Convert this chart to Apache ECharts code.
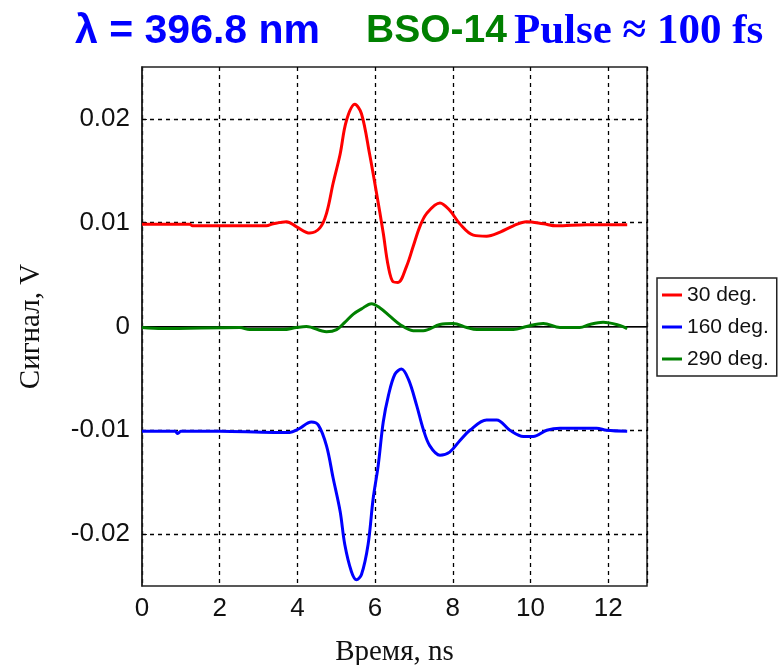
<!DOCTYPE html>
<html>
<head>
<meta charset="utf-8">
<script src="https://cdn.jsdelivr.net/npm/echarts@6/dist/echarts.min.js"></script>
<style>html,body{margin:0;padding:0;background:#fff}#c{width:783px;height:665px}</style>
</head>
<body>
<div id="c"></div>
<script>
// ---- data ----
const seriesNames = ['30 deg.', '160 deg.', '290 deg.'];
const xTicks = [0, 2, 4, 6, 8, 10, 12];
const yTicks = [-0.02, -0.01, 0, 0.01, 0.02];

const time30 = [0, 1.23, 1.3, 3.2, 3.38, 3.72, 3.98, 4.32, 4.58, 4.75, 4.92, 5.10, 5.26, 5.48, 5.65, 5.86, 6.04, 6.21, 6.34, 6.47, 6.59, 6.81, 6.98, 7.15, 7.33, 7.67, 7.92, 8.18, 8.53, 8.87, 9.22, 9.56, 9.90, 10.33, 10.67, 11.44, 12.49];
const sig30 = [0.00985, 0.00985, 0.0097, 0.0097, 0.0099, 0.0101, 0.0096, 0.0090, 0.0095, 0.0109, 0.0138, 0.0166, 0.0198, 0.0214, 0.0205, 0.0166, 0.0128, 0.0090, 0.0058, 0.0043, 0.00425, 0.0058, 0.0077, 0.0096, 0.0109, 0.0119, 0.0112, 0.0099, 0.0088, 0.0087, 0.0091, 0.0097, 0.0101, 0.0099, 0.0097, 0.0098, 0.0098];

const time160 = [0, 0.85, 0.92, 1.0, 2.0, 3.38, 3.80, 4.02, 4.36, 4.54, 4.75, 4.92, 5.10, 5.22, 5.39, 5.52, 5.65, 5.82, 5.95, 6.08, 6.21, 6.34, 6.51, 6.68, 6.86, 7.07, 7.24, 7.41, 7.67, 7.92, 8.18, 8.44, 8.87, 9.13, 9.47, 9.82, 10.07, 10.42, 10.76, 11.70, 11.96, 12.49];
const sig160 = [-0.0101, -0.0101, -0.0103, -0.0101, -0.0101, -0.0102, -0.0102, -0.0099, -0.0092, -0.0095, -0.0115, -0.0146, -0.0178, -0.0210, -0.0236, -0.0244, -0.0239, -0.0210, -0.0166, -0.0134, -0.0092, -0.0067, -0.0046, -0.0041, -0.0051, -0.0076, -0.0099, -0.0115, -0.0124, -0.0121, -0.0110, -0.0100, -0.0090, -0.0090, -0.0100, -0.0106, -0.0106, -0.0100, -0.0098, -0.0098, -0.0100, -0.0101];

const time290 = [0, 0.52, 2.52, 2.77, 3.63, 3.98, 4.23, 4.75, 5.01, 5.22, 5.44, 5.65, 5.91, 6.12, 6.38, 6.64, 6.98, 7.24, 7.67, 8.01, 8.36, 8.62, 9.56, 9.90, 10.33, 10.76, 11.27, 11.53, 11.87, 12.30, 12.49];
const sig290 = [-0.0001, -0.0002, -0.0001, -0.0003, -0.0003, -0.0001, 0.0, -0.0005, -0.0003, 0.0004, 0.0012, 0.0017, 0.0022, 0.0018, 0.0010, 0.0002, -0.0004, -0.0004, 0.0002, 0.0003, -0.0001, -0.0003, -0.0003, 0.0, 0.0003, -0.0001, -0.0001, 0.0002, 0.0004, 0.0001, -0.0002];

const colors = ['#ff0000', '#0000ff', '#008000'];
const pairs = (xs, ys) => xs.map((x, i) => [x, ys[i]]);
const allData = [pairs(time30, sig30), pairs(time160, sig160), pairs(time290, sig290)];

const chart = echarts.init(document.getElementById('c'), null, {renderer: 'canvas'});
const series = allData.map((d, i) => ({
  name: seriesNames[i],
  type: 'line',
  data: d,
  smooth: 0.35,
  showSymbol: false,
  z: 5 + (i === 2 ? 1 : 0),
  lineStyle: {color: colors[i], width: 3},
  itemStyle: {color: colors[i]}
}));
// horizontal grid lines and zero line
series.push({
  type: 'line', data: [], silent: true, z: 1,
  markLine: {
    silent: true, symbol: 'none', animation: false,
    label: {show: false},
    lineStyle: {color: '#000', type: [4, 4], width: 1.3},
    data: yTicks.filter(v => v !== 0).map(v => ({yAxis: v}))
  }
});
series.push({
  type: 'line', data: [], silent: true, z: 2,
  markLine: {
    silent: true, symbol: 'none', animation: false,
    label: {show: false},
    lineStyle: {color: '#000', type: 'solid', width: 1},
    data: [{yAxis: 0}]
  }
});

chart.setOption({
  animation: false,
  backgroundColor: '#fff',
  title: {
    left: 70, top: 5,
    text: '{a|λ = 396.8 nm}{s|}{b|BSO-14}{t|}{c|Pulse ≈ 100 fs}',
    textStyle: {
      rich: {
        a: {fontFamily: 'Liberation Sans, Arial', fontWeight: 'bold', fontSize: 41, color: '#0000ff'},
        s: {width: 46},
        b: {fontFamily: 'Liberation Sans, Arial', fontWeight: 'bold', fontSize: 39, color: '#008000'},
        t: {width: 7},
        c: {fontFamily: 'Liberation Serif, Times New Roman', fontWeight: 'bold', fontSize: 43, color: '#0000ff'}
      }
    }
  },
  legend: {
    orient: 'vertical',
    left: 657, top: 278,
    data: seriesNames,
    icon: 'rect',
    itemWidth: 20, itemHeight: 3,
    itemGap: 10,
    padding: [6, 8, 6, 5],
    borderColor: '#222', borderWidth: 1.5,
    backgroundColor: '#fff',
    textStyle: {fontFamily: 'Liberation Sans, Arial', fontSize: 21, color: '#111', lineHeight: 22}
  },
  grid: {
    left: 142, right: 136, top: 67, bottom: 79,
    outerBoundsMode: 'none', containLabel: false,
    show: true, borderColor: '#222', borderWidth: 1.5, backgroundColor: '#fff'
  },
  xAxis: {
    type: 'value', min: 0, max: 13, interval: 2,
    name: 'Время, ns', nameLocation: 'middle', nameGap: 52,
    nameTextStyle: {fontFamily: 'Liberation Serif, Times New Roman', fontSize: 29, color: '#111'},
    axisLine: {show: true, lineStyle: {color: '#222', width: 1.5}},
    axisTick: {show: true, inside: true, length: 5, lineStyle: {color: '#222'}},
    axisLabel: {
      fontFamily: 'Liberation Sans, Arial', fontSize: 26, color: '#111', margin: 10,
      formatter: v => (xTicks.indexOf(v) >= 0 ? String(v) : '')
    },
    splitLine: {show: true, lineStyle: {color: '#000', type: [4, 4], width: 1.3}}
  },
  yAxis: {
    type: 'value', min: -0.025, max: 0.025,
    name: 'Сигнал, V', nameLocation: 'middle', nameGap: 96,
    nameTextStyle: {fontFamily: 'Liberation Serif, Times New Roman', fontSize: 29, color: '#111'},
    axisLine: {show: true, lineStyle: {color: '#222', width: 1.5}},
    axisTick: {show: true, inside: true, length: 5, customValues: yTicks, lineStyle: {color: '#222'}},
    axisLabel: {
      fontFamily: 'Liberation Sans, Arial', fontSize: 26, color: '#111', margin: 12,
      customValues: yTicks,
      formatter: v => (Math.abs(v) < 1e-9 ? '0' : String(Math.round(v * 100) / 100))
    },
    splitLine: {show: false}
  },
  series: series
});
</script>
</body>
</html>
